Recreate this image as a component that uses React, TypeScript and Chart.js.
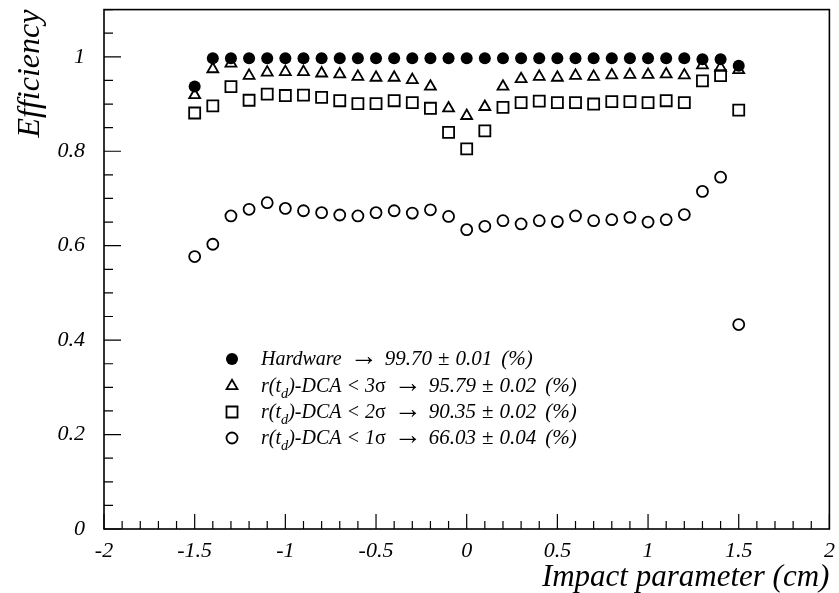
import React, { useEffect, useRef } from "react";
import { Chart, registerables } from "chart.js";

Chart.register(...registerables);

const impactParameter = [
  -1.5, -1.4, -1.3, -1.2, -1.1, -1.0, -0.9, -0.8, -0.7, -0.6, -0.5, -0.4, -0.3, -0.2, -0.1,
  0.0, 0.1, 0.2, 0.3, 0.4, 0.5, 0.6, 0.7, 0.8, 0.9, 1.0, 1.1, 1.2, 1.3, 1.4, 1.5,
];

const hardware = [
  0.937, 0.997, 0.997, 0.997, 0.997, 0.997, 0.997, 0.997, 0.997, 0.997, 0.997, 0.997, 0.997, 0.997, 0.997,
  0.997, 0.997, 0.997, 0.997, 0.997, 0.997, 0.997, 0.997, 0.997, 0.997, 0.997, 0.997, 0.997, 0.995, 0.995, 0.981,
];

const dca3sigma = [
  0.919, 0.974, 0.986, 0.960, 0.967, 0.968, 0.968, 0.965, 0.963, 0.958, 0.956, 0.956, 0.951, 0.937, 0.891,
  0.875, 0.894, 0.937, 0.953, 0.958, 0.956, 0.960, 0.958, 0.961, 0.962, 0.962, 0.963, 0.961, 0.982, 0.977, 0.972,
];

const dca2sigma = [
  0.881, 0.896, 0.937, 0.908, 0.921, 0.918, 0.919, 0.914, 0.907, 0.901, 0.901, 0.907, 0.903, 0.891, 0.840,
  0.805, 0.843, 0.893, 0.903, 0.906, 0.903, 0.903, 0.900, 0.905, 0.905, 0.903, 0.907, 0.903, 0.949, 0.960, 0.887,
];

const dca1sigma = [
  0.577, 0.603, 0.663, 0.677, 0.691, 0.679, 0.674, 0.670, 0.665, 0.663, 0.670, 0.674, 0.669, 0.676, 0.662,
  0.634, 0.641, 0.653, 0.646, 0.653, 0.651, 0.663, 0.653, 0.655, 0.660, 0.650, 0.655, 0.666, 0.715, 0.745, 0.433,
];

const legendValues = ["99.70", "95.79", "90.35", "66.03"];
const legendErrors = ["0.01", "0.02", "0.02", "0.04"];
const legendSigmas = ["3", "2", "1"];

const SERIF = "'Liberation Serif', 'DejaVu Serif', serif";

type Seg = { t: string; italic?: boolean; sub?: boolean; scale?: number; gap?: number };

function drawMarker(ctx: CanvasRenderingContext2D, kind: string, x: number, y: number) {
  ctx.save();
  ctx.strokeStyle = "#000";
  ctx.fillStyle = "#000";
  ctx.lineWidth = 1.8;
  ctx.beginPath();
  if (kind === "filled") {
    ctx.arc(x, y, 6, 0, Math.PI * 2);
    ctx.fill();
  } else if (kind === "triangle") {
    const r = 6.3;
    ctx.moveTo(x, y - r);
    ctx.lineTo(x + r * Math.sin((2 * Math.PI) / 3), y - r * Math.cos((2 * Math.PI) / 3));
    ctx.lineTo(x + r * Math.sin((4 * Math.PI) / 3), y - r * Math.cos((4 * Math.PI) / 3));
    ctx.closePath();
    ctx.stroke();
  } else if (kind === "square") {
    ctx.rect(x - 5.5, y - 5.5, 11, 11);
    ctx.stroke();
  } else {
    ctx.arc(x, y, 5.5, 0, Math.PI * 2);
    ctx.stroke();
  }
  ctx.restore();
}

function drawRich(ctx: CanvasRenderingContext2D, x: number, baseline: number, segs: Seg[], size: number) {
  let cx = x;
  for (const s of segs) {
    const fs = s.sub ? size * 0.72 : size * (s.scale || 1);
    ctx.font = `${s.italic ? "italic " : ""}${fs}px ${SERIF}`;
    ctx.fillText(s.t, cx, baseline + (s.sub ? size * 0.28 : 0));
    cx += ctx.measureText(s.t).width + (s.gap || 0);
  }
}

const framePlugin = {
  id: "frameAndTicks",
  afterDraw(chart: any) {
    const { ctx, chartArea } = chart;
    const { left, right, top, bottom } = chartArea;
    const xs = chart.scales.x;
    const ys = chart.scales.y;
    ctx.save();
    ctx.strokeStyle = "#000";
    ctx.lineWidth = 1.6;
    ctx.strokeRect(left, top, right - left, bottom - top);
    ctx.lineWidth = 1.2;
    ctx.beginPath();
    for (const t of xs.ticks) {
      const px = xs.getPixelForValue(t.value);
      const r = Math.round(t.value * 10);
      const len = r % 5 === 0 ? 15 : 8;
      ctx.moveTo(px, bottom);
      ctx.lineTo(px, bottom - len);
    }
    for (const t of ys.ticks) {
      const py = ys.getPixelForValue(t.value);
      const r = Math.round(t.value * 20);
      const len = r % 4 === 0 ? 17 : 9;
      ctx.moveTo(left, py);
      ctx.lineTo(left + len, py);
    }
    ctx.stroke();

    // legend
    const kinds = ["filled", "triangle", "square", "open"];
    const rowsY = [359, 386, 412, 438];
    const mx = 232;
    const tx = 261;
    const size = 20;
    ctx.fillStyle = "#000";
    ctx.textBaseline = "alphabetic";
    ctx.textAlign = "left";
    for (let i = 0; i < 4; i++) {
      drawMarker(ctx, kinds[i], mx, rowsY[i]);
      const base = rowsY[i] + 6;
      const tail: Seg[] = [
        { t: "\u2192", scale: 1.4, gap: 7 },
        { t: legendValues[i], italic: true, scale: 1.05, gap: 6 },
        { t: "\u00b1", scale: 1.05, gap: 6 },
        { t: legendErrors[i], italic: true, scale: 1.05, gap: 9 },
        { t: "(%)", italic: true, scale: 1.05 },
      ];
      let segs: Seg[];
      if (i === 0) {
        segs = [{ t: "Hardware", italic: true, gap: 8 }, ...tail];
      } else {
        segs = [
          { t: "r(t", italic: true },
          { t: "d", italic: true, sub: true },
          { t: ")-DCA < " + legendSigmas[i - 1], italic: true },
          { t: "\u03c3", gap: 8 },
          ...tail,
        ];
      }
      drawRich(ctx, tx, base, segs, size);
    }
    ctx.restore();
  },
};

export default function App() {
  const ref = useRef<HTMLCanvasElement | null>(null);
  useEffect(() => {
    document.body.style.margin = "0";
    const canvas = ref.current;
    if (!canvas) return;
    Chart.defaults.color = "#000";
    const mk = (arr: number[]) => impactParameter.map((x, i) => ({ x, y: arr[i] }));
    const chart = new Chart(canvas, {
      type: "scatter",
      data: {
        datasets: [
          {
            label: "Hardware",
            data: mk(hardware),
            pointStyle: "circle",
            pointRadius: 6,
            backgroundColor: "#000",
            borderColor: "#000",
            borderWidth: 0,
          },
          {
            label: "r(td)-DCA < 3σ",
            data: mk(dca3sigma),
            pointStyle: "triangle",
            pointRadius: 6.3,
            backgroundColor: "rgba(0,0,0,0)",
            borderColor: "#000",
            borderWidth: 1.8,
          },
          {
            label: "r(td)-DCA < 2σ",
            data: mk(dca2sigma),
            pointStyle: "rect",
            pointRadius: 7.8,
            backgroundColor: "rgba(0,0,0,0)",
            borderColor: "#000",
            borderWidth: 1.8,
          },
          {
            label: "r(td)-DCA < 1σ",
            data: mk(dca1sigma),
            pointStyle: "circle",
            pointRadius: 5.5,
            backgroundColor: "rgba(0,0,0,0)",
            borderColor: "#000",
            borderWidth: 1.8,
          },
        ],
      },
      options: {
        responsive: false,
        animation: false,
        devicePixelRatio: 1,
        layout: { padding: { top: 9, right: 9, left: 0, bottom: 0 } },
        plugins: {
          legend: { display: false },
          tooltip: { enabled: false },
        },
        scales: {
          x: {
            type: "linear",
            min: -2,
            max: 2,
            grid: { display: false, drawTicks: false },
            border: { display: false },
            ticks: {
              stepSize: 0.1,
              autoSkip: false,
              maxRotation: 0,
              padding: 9,
              font: { family: SERIF, style: "italic", size: 22 },
              callback: (v: any) => {
                const r = Math.round(Number(v) * 10);
                return r % 5 === 0 ? String(r / 10) : "";
              },
            },
            title: {
              display: true,
              text: "Impact parameter (cm)",
              align: "end",
              font: { family: SERIF, style: "italic", size: 31, lineHeight: 1.0 },
              padding: { top: 0, bottom: 0 },
            },
            afterFit: (s: any) => {
              s.height = 64;
              s.paddingLeft = 0;
              s.paddingRight = 0;
            },
          },
          y: {
            type: "linear",
            min: 0,
            max: 1.1,
            grid: { display: false, drawTicks: false },
            border: { display: false },
            ticks: {
              stepSize: 0.05,
              autoSkip: false,
              padding: 19,
              font: { family: SERIF, style: "italic", size: 22 },
              callback: (v: any) => {
                const r = Math.round(Number(v) * 20);
                return r % 4 === 0 ? String(r / 20) : "";
              },
            },
            title: {
              display: true,
              text: "Efficiency",
              align: "end",
              font: { family: SERIF, style: "italic", size: 32, lineHeight: 1.0 },
              padding: { top: 15, bottom: 0 },
            },
            afterFit: (s: any) => {
              s.width = 104;
              s.paddingTop = 0;
              s.paddingBottom = 0;
            },
          },
        },
      },
      plugins: [framePlugin],
    });
    return () => chart.destroy();
  }, []);
  return (
    <div style={{ width: 839, height: 593 }}>
      <canvas ref={ref} width={839} height={593} style={{ display: "block" }} />
    </div>
  );
}
